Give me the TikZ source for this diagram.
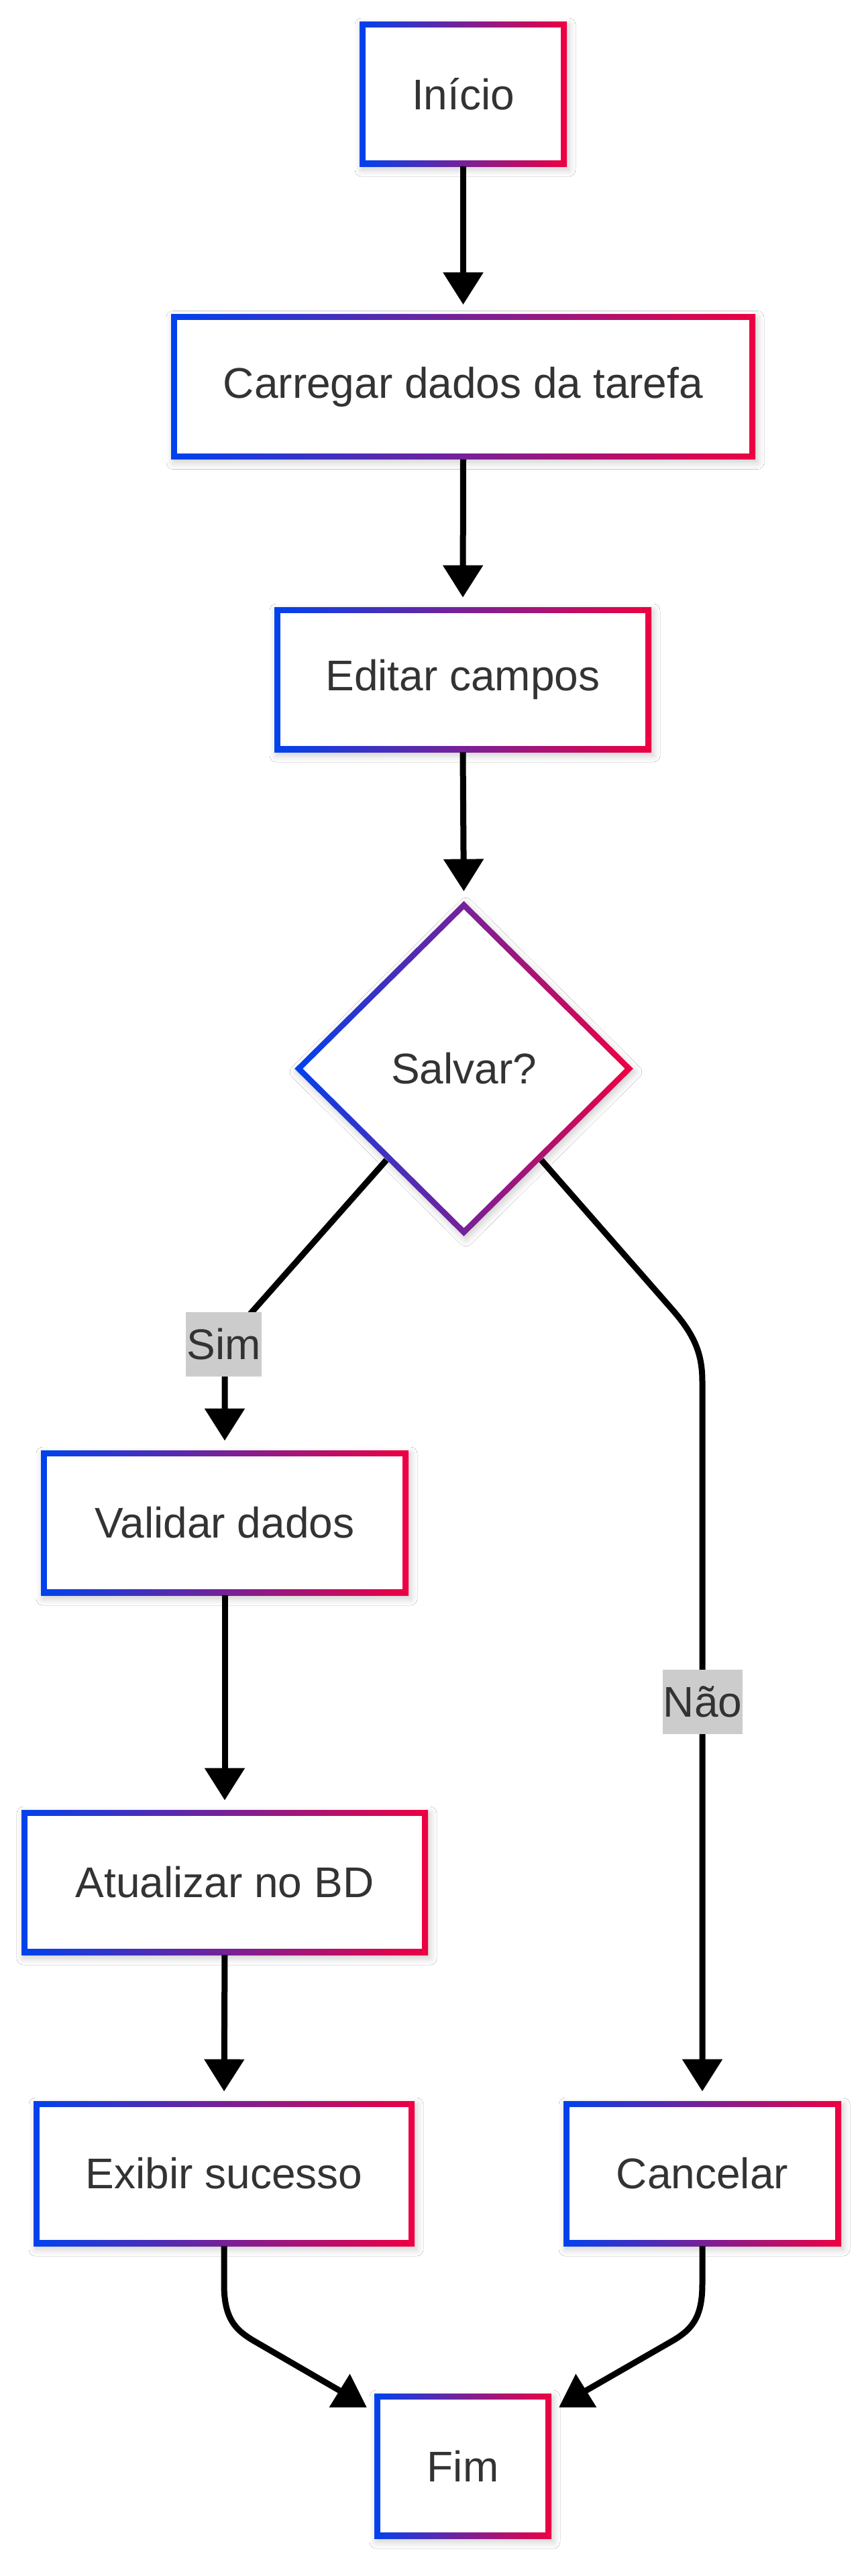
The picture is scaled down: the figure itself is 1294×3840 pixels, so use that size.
\documentclass[tikz,border=0pt]{standalone}
\usepackage{fontspec}
\setmainfont{Liberation Sans}
\usetikzlibrary{shapes.geometric,arrows.meta,shadows.blur}
\definecolor{cblue}{RGB}{0,66,238}
\definecolor{cred}{RGB}{238,0,66}
\definecolor{ctext}{RGB}{51,51,51}
\definecolor{clabel}{RGB}{204,204,204}
\tikzset{
  base/.style={font=\fontsize{32}{38}\selectfont, text=ctext, inner sep=0pt,
     left color=cblue, right color=cred,
     blur shadow={shadow xshift=1.5pt, shadow yshift=-2.5pt, shadow blur radius=5pt, shadow opacity=20, shadow blur steps=8}},
  gbox/.style={base, rectangle, minimum width=#1, minimum height=108pt,
     path picture={\fill[white] ([shift={(4.35pt,4.35pt)}]path picture bounding box.south west) rectangle ([shift={(-4.35pt,-4.35pt)}]path picture bounding box.north east);}},
  gdiamond/.style={base, diamond, minimum width=252.5pt, minimum height=250pt,
     path picture={\fill[white] ([yshift=-6.2pt]path picture bounding box.north) -- ([xshift=-6.2pt]path picture bounding box.east) -- ([yshift=6.2pt]path picture bounding box.south) -- ([xshift=6.2pt]path picture bounding box.west) -- cycle;}},
  elabel/.style={fill=clabel, text=ctext, font=\fontsize{32}{38}\selectfont, inner sep=0pt, inner xsep=0.5pt, minimum height=48pt},
  flow/.style={line width=4.5pt, draw=black, -{Triangle[length=24pt,width=29pt]}, shorten >=7pt},
  plainline/.style={line width=4.5pt, draw=black},
  headtri/.style={fill=black},
}
\begin{document}
\begin{tikzpicture}[x=0.5pt,y=-0.5pt]
\fill[white] (0,0) rectangle (1294,3840);
\useasboundingbox (0,0) rectangle (1294,3840);

% nodes
\node[gbox=154.5pt] (inicio) at (690.5,140) {Início};
\node[gbox=435.5pt] (carregar) at (690.5,576.5) {Carregar dados da tarefa};
\node[gbox=281pt] (editar) at (690,1013) {Editar campos};
\node[gdiamond] (salvar) at (691.5,1593) {Salvar?};
\node[gbox=274pt] (validar) at (335,2270) {Validar dados};
\node[gbox=303pt] (atualizar) at (335,2806) {Atualizar no BD};
\node[gbox=284pt] (exibir) at (334,3240) {Exibir sucesso};
\node[gbox=207pt] (cancelar) at (1047,3240) {Cancelar};
\node[gbox=132pt] (fim) at (690,3676) {Fim};

% straight connectors
\draw[flow] (inicio.south) -- (carregar.north);
\draw[flow] (carregar.south) -- (editar.north);
\draw[flow] (editar.south) -- (salvar.north);
\draw[flow] (validar.south) -- (atualizar.north);
\draw[flow] (atualizar.south) -- (exibir.north);

% decision branches
\coordinate (sL) at ([shift={(11,11)}]salvar.south west);
\coordinate (sR) at ([shift={(-11,11)}]salvar.south east);
\draw[flow] (sL) -- (378,1953) .. controls (345,1990) and (335,2012) .. (335,2050) -- (validar.north);
\draw[flow] (sR) -- (1003,1953) .. controls (1037,1992) and (1047,2020) .. (1047,2060) -- (cancelar.north);

\node[elabel] (sim) at (333.5,2004) {Sim};
\node[elabel] (nao) at (1047.5,2537) {Não};

% merging into Fim
\coordinate (eL) at ([shift={(-46,-1)}]fim.north west);
\coordinate (eR) at ([shift={(46,-1)}]fim.north east);
\draw[plainline] (exibir.south) -- (334,3405) .. controls (334,3455) and (350,3472) .. (376,3488) -- (eL);
\draw[plainline] (cancelar.south) -- (1047,3405) .. controls (1047,3455) and (1031,3472) .. (1005,3488) -- (eR);
\fill[headtri] ([shift={(-36,-29)}]fim.north west) -- ([shift={(-11,21)}]fim.north west) -- ([shift={(-67,21)}]fim.north west) -- cycle;
\fill[headtri] ([shift={(36,-29)}]fim.north east) -- ([shift={(11,21)}]fim.north east) -- ([shift={(67,21)}]fim.north east) -- cycle;
\end{tikzpicture}
\end{document}
